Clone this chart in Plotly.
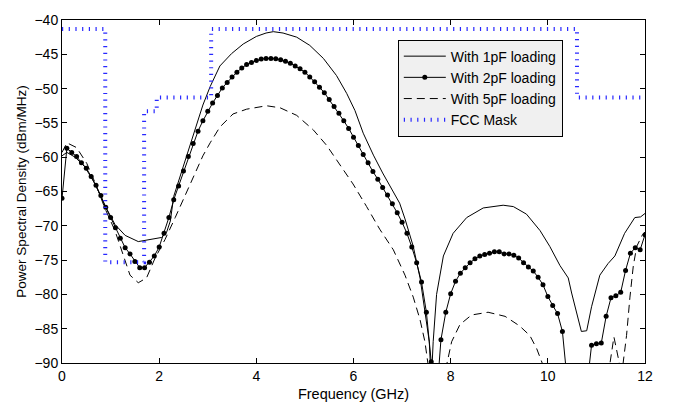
import plotly.graph_objects as go

# ---- data ----
freq_1pF = [0.0, 0.1, 0.27, 0.47, 0.68, 0.88, 1.09, 1.3, 1.57, 1.74, 1.85, 2.05, 2.15, 2.23,
            2.3, 2.4, 2.5, 2.6, 2.7, 2.8, 2.9, 3.05, 3.25, 3.49, 3.73, 4.0, 4.2, 4.35, 4.55,
            4.83, 5.1, 5.38, 5.65, 5.86, 6.03, 6.2, 6.41, 6.6, 6.8, 6.95, 7.06, 7.23, 7.37,
            7.47, 7.56, 7.6, 7.64, 7.71, 7.85, 8.05, 8.33, 8.67, 9.08, 9.29, 9.56, 9.84,
            10.04, 10.25, 10.42, 10.49, 10.56, 10.69, 10.8, 10.9, 11.07, 11.24, 11.38,
            11.58, 11.79, 11.91, 12.0]
psd_1pF = [-59.8, -59.3, -60.0, -61.4, -63.9, -67.0, -69.8, -71.4, -72.3, -72.1, -71.9, -71.7,
           -71.0, -69.3, -65.7, -63.5, -61.2, -58.9, -56.8, -54.4, -52.4, -49.7, -46.7, -44.9,
           -43.5, -42.4, -41.9, -41.7, -41.9, -42.5, -43.7, -45.6, -48.1, -50.7, -53.2, -56.5,
           -59.7, -62.3, -64.8, -66.7, -69.0, -73.0, -77.6, -82.3, -86.9, -93.0, -86.9, -80.0,
           -74.4, -71.1, -68.8, -67.4, -67.0, -67.2, -68.3, -70.7, -73.0, -75.8, -77.6, -79.8,
           -81.8, -85.4, -85.3, -81.8, -77.2, -75.5, -74.4, -71.1, -68.8, -68.7, -68.2]

freq_2pF = [i / 10 for i in range(121)]
psd_2pF = [-66.0, -58.7, -59.3, -59.9, -60.8, -61.6, -62.8, -64.1, -65.6, -67.3,
           -68.8, -70.3, -71.8, -73.2, -74.1, -75.2, -76.1, -76.1, -75.3, -74.4,
           -73.1, -71.1, -68.8, -66.2, -64.2, -62.0, -59.9, -58.0, -56.2, -54.7,
           -53.3, -52.1, -51.0, -49.9, -49.1, -48.3, -47.6, -47.0, -46.5, -46.2,
           -45.9, -45.7, -45.6, -45.6, -45.65, -45.8, -46.0, -46.3, -46.7, -47.1,
           -47.6, -48.3, -49.0, -49.8, -50.6, -51.6, -52.6, -53.6, -54.7, -55.8,
           -57.1, -58.3, -59.6, -60.8, -62.1, -63.2, -64.4, -65.5, -66.8, -68.1,
           -69.5, -71.1, -73.1, -75.4, -78.2, -82.6, -89.8, -96.0, -86.6, -82.6,
           -79.9, -78.1, -76.9, -76.1, -75.4, -74.8, -74.4, -74.2, -74.0, -73.8,
           -73.8, -74.1, -74.1, -74.3, -74.7, -75.4, -76.0, -76.6, -77.5, -78.6,
           -80.3, -81.6, -82.8, -85.4, -93.5, -100.0, -100.0, -100.0, -93.7, -87.4,
           -87.2, -87.1, -83.2, -80.5, -80.2, -79.7, -76.5, -74.0, -73.2, -73.5,
           -71.3]

freq_5pF = [0.0, 0.1, 0.3, 0.51, 0.71, 0.88, 1.09, 1.26, 1.4, 1.57, 1.74, 1.91, 2.12, 2.33,
            2.53, 2.74, 2.9, 3.05, 3.25, 3.52, 3.8, 4.21, 4.49, 4.83, 5.17, 5.45, 5.72, 5.99,
            6.27, 6.54, 6.82, 7.06, 7.23, 7.37, 7.47, 7.55, 7.91, 8.02, 8.19, 8.43, 8.77,
            9.12, 9.42, 9.63, 9.77, 9.9, 10.0, 11.2, 11.28, 11.36, 11.41, 11.5, 11.55, 11.62,
            11.69, 11.76, 11.83, 11.94, 12.0]
psd_5pF = [-59.3, -57.9, -58.6, -60.9, -64.2, -67.4, -70.7, -74.4, -77.2, -78.3, -77.6, -74.8,
           -72.0, -68.8, -65.6, -62.2, -59.8, -57.9, -55.6, -53.7, -53.0, -52.5, -52.8, -53.9,
           -56.0, -58.3, -61.1, -63.9, -67.2, -70.5, -73.5, -77.2, -80.4, -83.7, -86.9, -91.0,
           -90.5, -86.9, -84.4, -83.0, -82.6, -83.2, -84.6, -86.0, -87.9, -90.3, -93.0, -93.0,
           -90.0, -86.2, -87.9, -91.0, -90.0, -86.0, -80.4, -75.8, -73.0, -71.4, -70.9]

mask_edges = [0.0, 0.89, 1.69, 1.95, 3.07, 10.6, 12.0]
mask_levels = [-41.3, -75.3, -53.3, -51.3, -41.3, -51.3]

x_ticks = [0, 2, 4, 6, 8, 10, 12]
y_ticks = [-90, -85, -80, -75, -70, -65, -60, -55, -50, -45, -40]

FONT = "Liberation Sans, Arial, sans-serif"

fig = go.Figure()
fig.add_trace(go.Scatter(x=freq_1pF, y=psd_1pF, mode="lines", name="With 1pF loading",
                         line=dict(color="black", width=1)))
fig.add_trace(go.Scatter(x=freq_2pF, y=psd_2pF, mode="lines+markers", name="With 2pF loading",
                         line=dict(color="black", width=1),
                         marker=dict(color="black", size=5, symbol="circle")))
fig.add_trace(go.Scatter(x=freq_5pF, y=psd_5pF, mode="lines", name="With 5pF loading",
                         line=dict(color="black", width=1, dash="8px,5px")))
fig.add_trace(go.Scatter(x=mask_edges, y=mask_levels + [mask_levels[-1]], mode="lines",
                         name="FCC Mask", line_shape="hv",
                         line=dict(color="rgb(40,40,255)", width=4, dash="1.2px,5.5px")))

axis_common = dict(showline=True, linecolor="black", linewidth=1, mirror="ticks",
                   ticks="inside", ticklen=5, tickcolor="black", tickwidth=1,
                   showgrid=False, zeroline=False,
                   tickfont=dict(family=FONT, size=14, color="black"))

fig.update_xaxes(range=[0, 12], tickvals=x_ticks,
                 title=dict(text="Frequency (GHz)", font=dict(family=FONT, size=14.5, color="black"),
                            standoff=6),
                 **axis_common)
fig.update_yaxes(range=[-90, -40], tickvals=y_ticks,
                 title=dict(text="Power Spectral Density (dBm/MHz)",
                            font=dict(family=FONT, size=13.5, color="black"), standoff=4),
                 **axis_common)

fig.update_layout(
    width=676, height=412,
    margin=dict(l=62, r=31, t=14, b=40),
    paper_bgcolor="white", plot_bgcolor="white",
    font=dict(family=FONT, size=14, color="black"),
    showlegend=True,
    legend=dict(x=0.859, y=0.943, xanchor="right", yanchor="top",
                bgcolor="#f0f0f0", bordercolor="black", borderwidth=1,
                font=dict(family=FONT, size=14, color="black"),
                tracegroupgap=0, itemwidth=42),
)

fig.write_html("out.html")
